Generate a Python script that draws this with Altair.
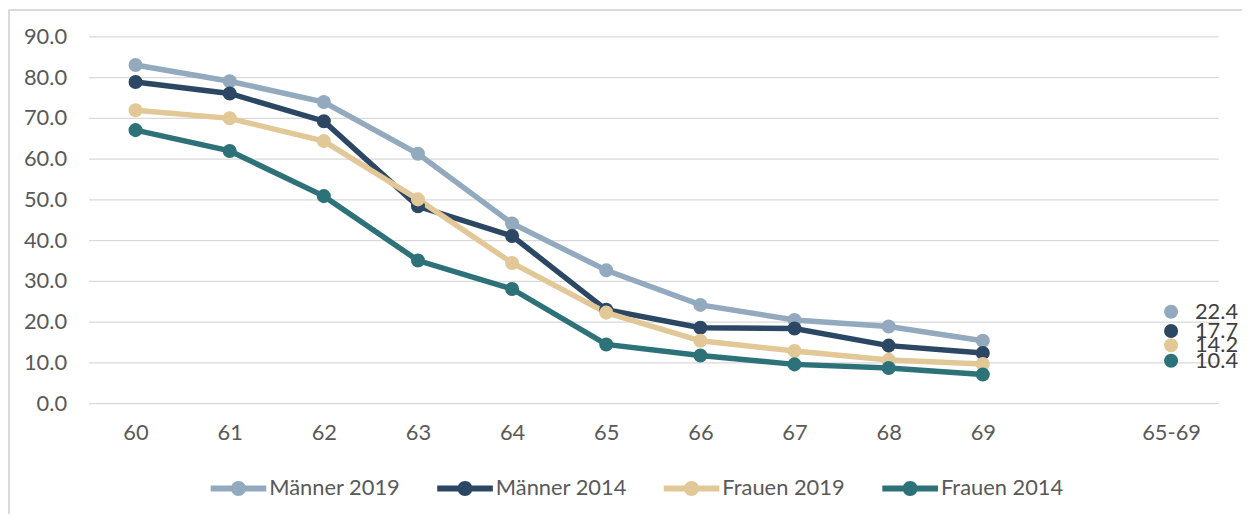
import altair as alt
import pandas as pd

ages = ["60", "61", "62", "63", "64", "65", "66", "67", "68", "69"]
domain = ages + [" ", "65-69"]
series = ["Männer 2019", "Männer 2014", "Frauen 2019", "Frauen 2014"]
colors = ["#93A9BE", "#2C4763", "#E2C797", "#2E7279"]

maenner_2019 = [83.0, 79.0, 73.9, 61.2, 44.1, 32.6, 24.1, 20.4, 18.8, 15.3]
maenner_2014 = [78.8, 76.0, 69.2, 48.3, 41.0, 22.9, 18.5, 18.3, 14.1, 12.3]
frauen_2019 = [71.9, 69.9, 64.3, 50.0, 34.4, 22.2, 15.3, 12.8, 10.6, 9.6]
frauen_2014 = [67.0, 61.9, 50.8, 35.0, 28.0, 14.4, 11.7, 9.5, 8.6, 7.0]
summary_65_69 = [22.4, 17.7, 14.2, 10.4]

rows = []
for s, vals in zip(series, [maenner_2019, maenner_2014, frauen_2019, frauen_2014]):
    for a, v in zip(ages, vals):
        rows.append({"Alter": a, "Wert": v, "Serie": s})
df = pd.DataFrame(rows)
df_sum = pd.DataFrame({"Alter": ["65-69"] * 4, "Wert": summary_65_69, "Serie": series})

FONT = "Lato"
TXT = "#595959"
FS = 22

x = alt.X("Alter:N", sort=domain,
          scale=alt.Scale(type="point", domain=domain, padding=0.5),
          axis=alt.Axis(title=None, labelAngle=0, domain=False, ticks=False, tickSize=0,
                        labelPadding=20, labelFontSize=FS, labelColor=TXT, labelFont=FONT,
                        grid=False))
y = alt.Y("Wert:Q",
          scale=alt.Scale(domain=[0, 90], nice=False),
          axis=alt.Axis(title=None, values=list(range(0, 100, 10)), format=".1f",
                        domain=False, ticks=False, tickSize=0, labelPadding=22,
                        labelFontSize=FS, labelColor=TXT, labelFont=FONT,
                        gridColor="#D9D9D9", gridWidth=1.3))

legend_path = ("M-1,-0.105H1V0.105H-1Z "
               "M-0.27,0A0.27,0.27 0 1,1 0.27,0A0.27,0.27 0 1,1 -0.27,0Z")

leg = alt.Legend(title=None, orient="none", direction="horizontal",
                 legendX=123, legendY=427,
                 symbolType=legend_path, symbolSize=3136,
                 symbolStrokeWidth=0, symbolOpacity=1, labelOffset=3,
                 columnPadding=37, labelFontSize=FS,
                 labelFont=FONT, labelColor=TXT)

color = alt.Color("Serie:N", sort=series,
                  scale=alt.Scale(domain=series, range=colors), legend=leg)

left_border = alt.Chart(df_sum).mark_rule(color="#D9D9D9", strokeWidth=1.5).encode(
    x=alt.value(-80.3), y=alt.value(-26.3), y2=alt.value(600))
top_border = alt.Chart(df_sum).mark_rule(color="#D9D9D9", strokeWidth=1.5).encode(
    x=alt.value(-80.3), x2=alt.value(1300), y=alt.value(-26.3))

lines = alt.Chart(df).mark_line(strokeWidth=5.5).encode(x=x, y=y, color=color)
points = alt.Chart(df).mark_point(filled=True, size=200, opacity=1).encode(
    x=x, y=y, color=color)
pts_sum = alt.Chart(df_sum).mark_point(filled=True, size=200, opacity=1).encode(
    x=x, y=y, color=color)
labels = alt.Chart(df_sum).mark_text(align="left", dx=24, fontSize=FS, font=FONT,
                                     color="#404040").encode(
    x=x, y=y, text=alt.Text("Wert:Q", format=".1f"))

chart = alt.layer(left_border, top_border, lines, points, pts_sum, labels).properties(
    width=1137, height=369,
    autosize=alt.AutoSizeParams(type="none"),
    padding={"left": 81, "top": 27, "right": 24, "bottom": 110},
    background="white",
).configure_view(stroke=None)

chart.save("out.html", embed_options={"renderer": "svg", "actions": False})
